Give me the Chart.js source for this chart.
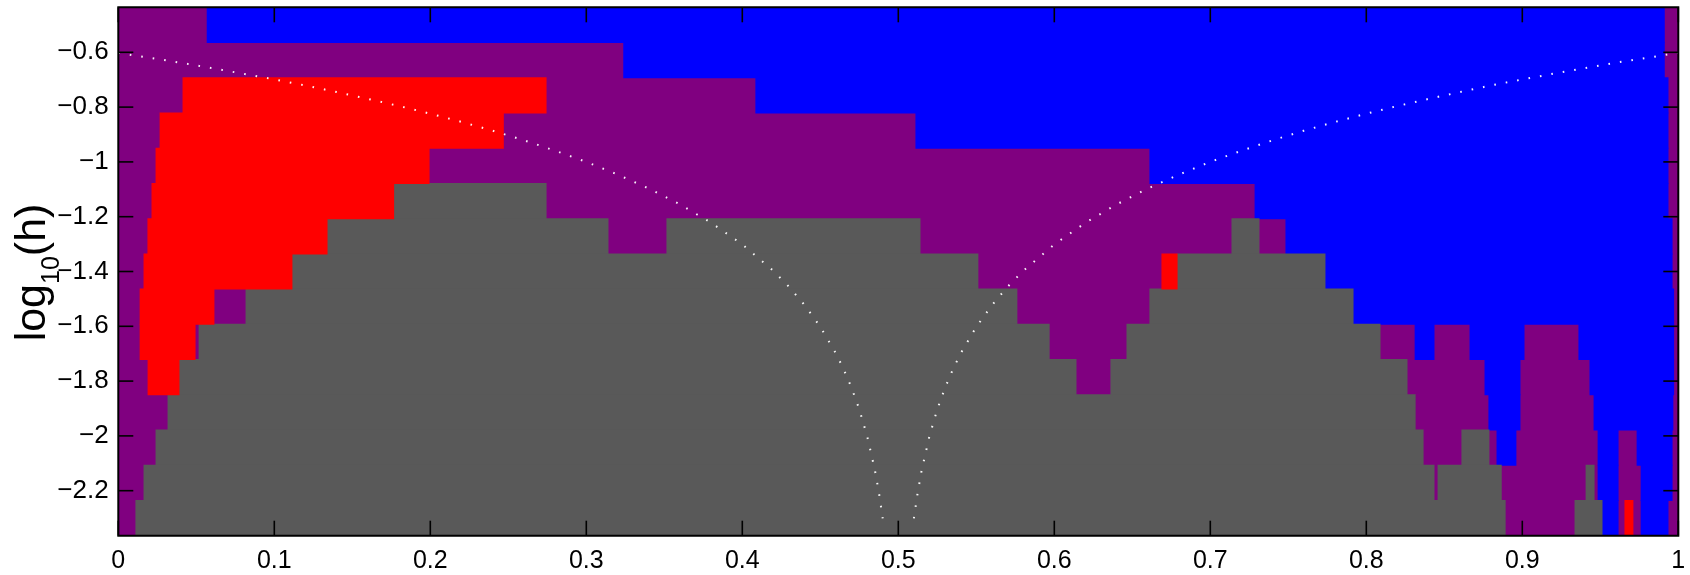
<!DOCTYPE html>
<html>
<head>
<meta charset="utf-8">
<script src="https://cdn.jsdelivr.net/npm/chart.js@4/dist/chart.umd.min.js"></script>
<style>
  html, body { margin: 0; padding: 0; background: #ffffff; }
  #wrap { width: 1690px; height: 575px; }
</style>
</head>
<body>
<div id="wrap"><canvas id="map" width="1690" height="575"></canvas></div>
<script>
// 行の中心 (log10(h))、上から下へ
const rowCenters = [-0.5, -0.62857, -0.75714, -0.88571, -1.01429, -1.14286, -1.27143, -1.4,
                    -1.52857, -1.65714, -1.78571, -1.91429, -2.04286, -2.17143, -2.3];

// 目盛り
const xTicks = [0, 0.1, 0.2, 0.3, 0.4, 0.5, 0.6, 0.7, 0.8, 0.9, 1];
const yTicks = [-2.2, -2, -1.8, -1.6, -1.4, -1.2, -1, -0.8, -0.6];

// セル: [行番号, x開始, x終了]
const purpleCells = [
  [0, 0, 1], [1, 0, 1], [2, 0, 1], [3, 0, 1], [4, 0, 1], [5, 0, 1], [6, 0, 1], [7, 0, 1],
  [8, 0, 1], [9, 0, 1], [10, 0, 1], [11, 0, 1], [12, 0, 1], [13, 0, 1], [14, 0, 1]
];
const blueCells = [
  [0, 0.057, 0.991], [1, 0.324, 0.991], [2, 0.4087, 0.9934], [3, 0.5113, 0.9934],
  [4, 0.6613, 0.9934], [5, 0.7287, 0.9934], [6, 0.7485, 0.996], [7, 0.7735, 0.996],
  [8, 0.7915, 0.997],
  [9, 0.8313, 0.8434], [9, 0.8665, 0.9011], [9, 0.9363, 0.997],
  [10, 0.8761, 0.8985], [10, 0.9434, 0.997],
  [11, 0.8786, 0.8985], [11, 0.946, 0.9965],
  [12, 0.8838, 0.8959], [12, 0.9486, 0.9614], [12, 0.9736, 0.996],
  [13, 0.9486, 0.9614], [13, 0.9762, 0.996],
  [14, 0.9511, 0.9614], [14, 0.9762, 0.9934]
];
const redCells = [
  [2, 0.0415, 0.2742], [3, 0.0268, 0.2468], [4, 0.0242, 0.1992], [5, 0.0216, 0.1765],
  [6, 0.019, 0.1338], [7, 0.0165, 0.1113], [7, 0.669, 0.6787], [8, 0.014, 0.0613],
  [9, 0.014, 0.0492], [10, 0.0191, 0.0389], [14, 0.9658, 0.9709]
];
const grayCells = [
  [5, 0.1765, 0.2742],
  [6, 0.1338, 0.3139], [6, 0.3517, 0.5139], [6, 0.7139, 0.7312],
  [7, 0.1113, 0.551], [7, 0.6787, 0.7735],
  [8, 0.0819, 0.576], [8, 0.6613, 0.7915],
  [9, 0.0518, 0.5967], [9, 0.6466, 0.8088],
  [10, 0.0389, 0.6139], [10, 0.6363, 0.8261],
  [11, 0.0319, 0.8313],
  [12, 0.0242, 0.8364], [12, 0.8613, 0.8786],
  [13, 0.0165, 0.8434], [13, 0.846, 0.8865], [13, 0.9409, 0.946],
  [14, 0.0113, 0.889], [14, 0.9338, 0.9511]
];

// 白い点線 (左右の曲線)
const leftCurveX = [0, 0.02, 0.04, 0.06, 0.08, 0.1, 0.12, 0.14, 0.16, 0.18, 0.2, 0.22, 0.24, 0.26, 0.28,
                    0.3, 0.32, 0.34, 0.36, 0.38, 0.4, 0.42, 0.43, 0.44, 0.45, 0.46, 0.465, 0.47, 0.475,
                    0.48, 0.485, 0.4875, 0.49];
const leftCurveY = [-0.602, -0.62, -0.638, -0.658, -0.678, -0.699, -0.721, -0.745, -0.77, -0.796, -0.824,
                    -0.854, -0.886, -0.921, -0.959, -1.0, -1.046, -1.097, -1.155, -1.222, -1.301, -1.398,
                    -1.456, -1.523, -1.602, -1.699, -1.757, -1.824, -1.903, -2.0, -2.125, -2.204, -2.301];
const rightCurveX = [0.51, 0.5125, 0.515, 0.52, 0.525, 0.53, 0.535, 0.54, 0.55, 0.56, 0.57, 0.58, 0.6,
                     0.62, 0.64, 0.66, 0.68, 0.7, 0.72, 0.74, 0.76, 0.78, 0.8, 0.82, 0.84, 0.86, 0.88,
                     0.9, 0.92, 0.94, 0.96, 0.98, 1];
const rightCurveY = [-2.301, -2.204, -2.125, -2.0, -1.903, -1.824, -1.757, -1.699, -1.602, -1.523, -1.456,
                     -1.398, -1.301, -1.222, -1.155, -1.097, -1.046, -1.0, -0.959, -0.921, -0.886, -0.854,
                     -0.824, -0.796, -0.77, -0.745, -0.721, -0.699, -0.678, -0.658, -0.638, -0.62, -0.602];

const COLORS = { purple: '#800080', blue: '#0000ff', red: '#ff0000', gray: '#595959' };
const FONT = "'Liberation Sans', Arial, Helvetica, sans-serif";

const halfRow = (rowCenters[0] - rowCenters[1]) / 2;
const yMin = rowCenters[rowCenters.length - 1] - halfRow;
const yMax = rowCenters[0] + halfRow;

function toBars(cells) {
  return cells.map(c => ({ x: [c[1], c[2]], y: rowCenters[c[0]] }));
}
function toPoints(xs, ys) {
  return xs.map((x, i) => ({ x: x, y: ys[i] }));
}
function barSet(cells, color, order) {
  return {
    type: 'bar',
    data: toBars(cells),
    backgroundColor: color,
    borderWidth: 0,
    grouped: false,
    barPercentage: 1,
    categoryPercentage: 1,
    inflateAmount: 0.5,
    order: order
  };
}
function curveSet(xs, ys) {
  return {
    type: 'line',
    indexAxis: 'x',
    data: toPoints(xs, ys),
    borderColor: 'rgba(255,255,255,0.95)',
    borderWidth: 2,
    borderDash: [1.6, 10],
    pointRadius: 0,
    tension: 0,
    fill: false,
    order: 0
  };
}

// 枠と内向きの目盛り線、縦軸タイトル
const framePlugin = {
  id: 'frame',
  afterDraw(chart) {
    const ctx = chart.ctx;
    const a = chart.chartArea;
    const xs = chart.scales.x, ys = chart.scales.y;
    const len = 15, tw = 1.6;
    ctx.save();
    ctx.setLineDash([]);
    ctx.fillStyle = '#000000';
    for (let i = 0; i < xTicks.length; i++) {
      const p = xs.getPixelForValue(xTicks[i]);
      ctx.fillRect(p - tw / 2, a.bottom - len, tw, len);
      ctx.fillRect(p - tw / 2, a.top, tw, len);
    }
    for (let i = 0; i < yTicks.length; i++) {
      const p = ys.getPixelForValue(yTicks[i]);
      ctx.fillRect(a.left, p - tw / 2, len, tw);
      ctx.fillRect(a.right - len, p - tw / 2, len, tw);
    }
    ctx.strokeStyle = '#000000';
    ctx.lineWidth = 2;
    ctx.beginPath();
    ctx.rect(a.left, a.top, a.right - a.left, a.bottom - a.top);
    ctx.stroke();

    // log10(h) (下付き文字つき)
    const big = '43px ' + FONT, small = '25px ' + FONT;
    ctx.textBaseline = 'alphabetic';
    ctx.textAlign = 'left';
    ctx.font = big;
    const w1 = ctx.measureText('log').width;
    const w3 = ctx.measureText('(h)').width;
    ctx.font = small;
    const w2 = ctx.measureText('10').width;
    const total = w1 + w2 + w3;
    ctx.translate(45, (a.top + a.bottom) / 2 + 1);
    ctx.rotate(-Math.PI / 2);
    let x = -total / 2;
    ctx.font = big;
    ctx.fillText('log', x, 0);
    x += w1;
    ctx.font = small;
    ctx.fillText('10', x, 14);
    x += w2;
    ctx.font = big;
    ctx.fillText('(h)', x, 0);
    ctx.restore();
  }
};

function minusLabel(v) {
  return String(v).replace('-', '\u2212');
}

new Chart(document.getElementById('map'), {
  type: 'bar',
  data: {
    datasets: [
      curveSet(leftCurveX, leftCurveY),
      curveSet(rightCurveX, rightCurveY),
      barSet(redCells, COLORS.red, 1),
      barSet(grayCells, COLORS.gray, 1),
      barSet(blueCells, COLORS.blue, 1),
      barSet(purpleCells, COLORS.purple, 2)
    ]
  },
  options: {
    indexAxis: 'y',
    responsive: false,
    devicePixelRatio: 1,
    animation: false,
    layout: { padding: { left: 0, right: 11.7, top: 7.3, bottom: 0 } },
    plugins: {
      legend: { display: false },
      tooltip: { enabled: false }
    },
    scales: {
      x: {
        type: 'linear',
        position: 'bottom',
        min: 0,
        max: 1,
        offset: false,
        grid: { display: false, drawTicks: false },
        border: { display: false },
        afterBuildTicks: s => { s.ticks = xTicks.map(v => ({ value: v })); },
        afterFit: s => { s.height = 39.3; s.paddingLeft = 0; s.paddingRight = 0; },
        ticks: {
          padding: 10,
          maxRotation: 0,
          autoSkip: false,
          color: '#000',
          font: { family: FONT, size: 25 },
          callback: v => minusLabel(v)
        }
      },
      y: {
        type: 'linear',
        position: 'left',
        min: yMin,
        max: yMax,
        offset: false,
        grid: { display: false, drawTicks: false, offset: false },
        border: { display: false },
        afterBuildTicks: s => { s.ticks = yTicks.map(v => ({ value: v })); },
        afterFit: s => { s.width = 118.3; s.paddingTop = 0; s.paddingBottom = 0; },
        ticks: {
          padding: 9.6,
          autoSkip: false,
          color: '#000',
          font: { family: FONT, size: 26 },
          callback: v => minusLabel(v)
        }
      }
    }
  },
  plugins: [framePlugin]
});
</script>
</body>
</html>
